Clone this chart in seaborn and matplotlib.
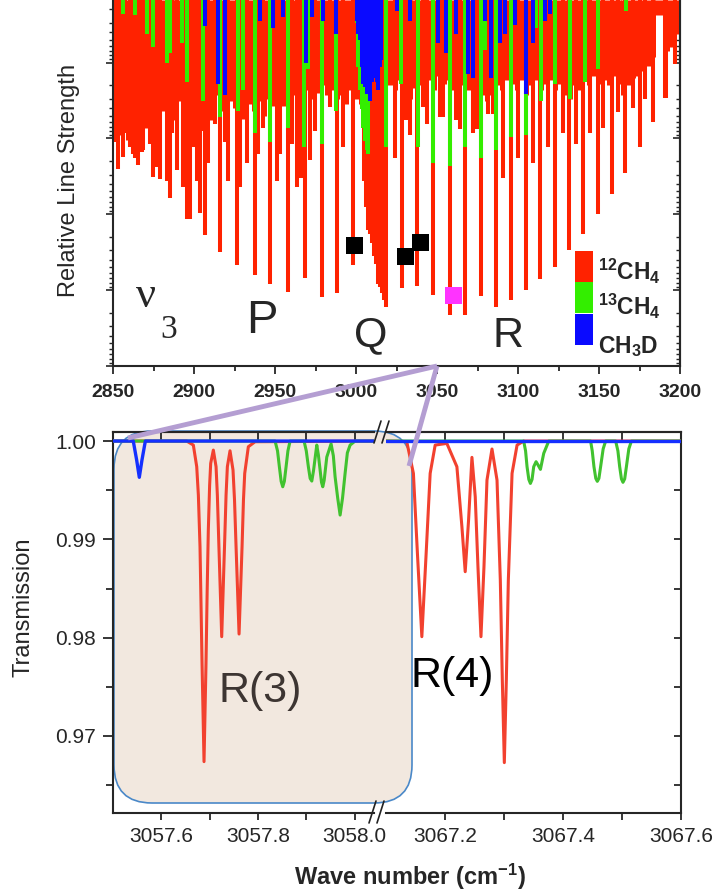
import matplotlib.pyplot as plt
import seaborn as sns
from matplotlib.lines import Line2D
from matplotlib.patches import FancyBboxPatch, Rectangle
from matplotlib.ticker import FixedLocator, FormatStrFormatter, LogLocator, NullFormatter

# ---------------- top panel: stick spectrum (cm-1, relative strength) ----------------
# strongest 12CH4 lines of the P and R manifolds
c12_main_wn = [2853.1, 2856.2, 2862.4, 2865.5, 2868.5, 2874.7, 2878.8, 2885.0, 2889.1,
               2895.3, 2897.3, 2903.5, 2906.6, 2915.9, 2926.2, 2937.5, 2946.7, 2958.0,
               2968.3, 2978.6, 2988.2, 2998.1, 3028.0, 3037.6, 3047.5, 3058.2, 3067.5,
               3076.9, 3086.6, 3095.9, 3104.7, 3113.4, 3123.0, 3131.3, 3140.1, 3149.4,
               3158.2, 3165.8, 3175.1, 3183.3, 3190.5, 3196.7]
c12_main_s = [0.025, 0.0176, 0.016, 0.0227, 0.0144, 0.032, 0.034, 0.062, 0.026,
              0.114, 0.114, 0.097, 0.19, 0.31, 0.47, 0.63, 0.82, 1.05,
              0.70, 1.22, 1.10, 0.47, 0.95, 0.89, 1.16, 2.13, 2.13,
              1.20, 1.66, 1.35, 1.0, 0.72, 0.49, 0.30, 0.18, 0.098,
              0.054, 0.029, 0.013, 0.0061, 0.0029, 0.00104]

# Q branch of 12CH4
q_wn = [3004.7, 3005.9, 3007.2, 3008.4, 3009.6, 3010.9, 3012.1, 3013.3, 3014.6,
        3015.8, 3017.1, 3018.3]
q_s = [0.036, 0.080, 0.16, 0.18, 0.24, 0.35, 0.45, 0.82, 0.90, 1.10, 1.35, 1.66]

# medium 12CH4 lines
c12_mid_wn = [2849.0, 2851.0, 2854.1, 2857.2, 2860.3, 2863.4, 2867.5, 2870.6, 2872.7,
              2876.8, 2883.4, 2886.0, 2893.2, 2899.4, 2901.5, 2904.5, 2908.7, 2912.8,
              2919.0, 2921.0, 2928.2, 2932.3, 2939.5, 2942.6, 2950.8, 2952.9, 2960.1,
              2963.2, 2966.2, 2971.4, 2974.5, 2983.7, 2992.0, 3023.8, 3031.0, 3033.5,
              3041.3, 3043.5, 3051.6, 3053.7, 3061.9, 3064.0, 3072.2, 3074.3, 3081.5,
              3084.6, 3090.7, 3100.0, 3109.2, 3118.5, 3127.8, 3136.0, 3144.2, 3152.5,
              3161.7, 3171.0, 3178.2, 3191.6]
c12_mid_s = [0.0072, 0.011, 0.0083, 0.0086, 0.013, 0.018, 0.015, 0.0074, 0.0117,
             0.024, 0.036, 0.0086, 0.044, 0.013, 0.036, 0.0079, 0.021, 0.0064,
             0.011, 0.036, 0.044, 0.021, 0.016, 0.0072, 0.036, 0.016, 0.0117,
             0.044, 0.033, 0.0195, 0.0079, 0.0039, 0.013, 0.018, 0.0058, 0.0090,
             0.0039, 0.0065, 0.0052, 0.0052, 0.0058, 0.0075, 0.0086, 0.0075, 0.0047,
             0.0047, 0.033, 0.018, 0.021, 0.013, 0.0086, 0.0117, 0.0086, 0.0072,
             0.0045, 0.0040, 0.0030, 0.0029]

# dense weak 12CH4 lines near the top
c12_weak_wn = [2850, 2853, 2856, 2859, 2862, 2865, 2868, 2871, 2874, 2877, 2880, 2883,
               2886, 2889, 2892, 2895, 2898, 2901, 2904, 2907, 2910, 2913, 2916, 2919,
               2922, 2925, 2928, 2931, 2934, 2937, 2940, 2943, 2946, 2949, 2952, 2955,
               2958, 2961, 2964, 2967, 2970, 2973, 2976, 2979, 2982, 2985, 2988, 2991,
               2994, 2997, 3000, 3003, 3021, 3024, 3027, 3030, 3033, 3036, 3039, 3042,
               3045, 3048, 3051, 3054, 3057, 3060, 3063, 3066, 3069, 3072, 3075, 3078,
               3081, 3084, 3087, 3090, 3093, 3096, 3099, 3102, 3105, 3108, 3111, 3114,
               3117, 3120, 3123, 3126, 3129, 3132, 3135, 3138, 3141, 3144, 3147, 3150,
               3153, 3156, 3159, 3162, 3165, 3168, 3171, 3174, 3177, 3180, 3183, 3186,
               3189, 3192, 3195, 3198]
c12_weak_s = [0.0067, 0.0091, 0.0074, 0.0106, 0.0144, 0.0100, 0.0124, 0.0074, 0.0106,
              0.0058, 0.0043, 0.0067, 0.0058, 0.0012, 0.0032, 0.0058, 0.0043, 0.0050,
              0.0037, 0.0032, 0.0058, 0.0027, 0.0043, 0.0037, 0.0032, 0.0040, 0.0027,
              0.0055, 0.0035, 0.0043, 0.0032, 0.0050, 0.0030, 0.0037, 0.0027, 0.0037,
              0.0032, 0.0027, 0.0032, 0.0027, 0.0023, 0.0030, 0.0025, 0.0020, 0.0027,
              0.0023, 0.0030, 0.0027, 0.0035, 0.0023, 0.0030, 0.0035, 0.0020, 0.0023,
              0.0017, 0.0027, 0.0030, 0.0022, 0.0020, 0.0027, 0.0017, 0.0023, 0.0015,
              0.0019, 0.0017, 0.0023, 0.0027, 0.0020, 0.0023, 0.0030, 0.0020, 0.0027,
              0.0032, 0.0027, 0.0020, 0.0023, 0.0017, 0.0019, 0.0023, 0.0017, 0.0027,
              0.0020, 0.0017, 0.0023, 0.0019, 0.0017, 0.0023, 0.0019, 0.0027, 0.0030,
              0.0020, 0.0023, 0.0017, 0.0020, 0.0015, 0.0019, 0.0017, 0.0020, 0.0015,
              0.0019, 0.0027, 0.0020, 0.0016, 0.0015, 0.0013, 0.0011, 0.00085, 0.00024,
              0.00024, 0.00070, 0.00063, 0.00042]

c13_wn = [2856.2, 2863.4, 2870.6, 2874.7, 2882.9, 2885.0, 2892.2, 2895.3, 2905.6,
          2915.9, 2927.2, 2930.3, 2937.5, 2946.7, 2958.0, 2968.0, 2970.3, 2978.6,
          2987.8, 3000.2, 3001.2, 3002.2, 3003.3, 3004.3, 3005.3, 3006.4, 3007.4,
          3018.7, 3027.9, 3038.2, 3047.5, 3058.2, 3067.5, 3077.3, 3079.4, 3086.6,
          3095.9, 3104.7, 3111.3, 3114.4, 3122.6, 3131.9, 3141.1, 3149.4, 3166.9]
c13_s = [2.3e-4, 2.4e-4, 4.2e-4, 6.3e-4, 1.0e-3, 7.6e-4, 5.6e-4, 1.8e-3, 3.2e-3,
         5.3e-3, 4.3e-3, 2.3e-3, 8.6e-3, 0.0113, 0.0074, 0.013, 1.2e-3, 0.0117,
         4.3e-3, 3.0e-4, 1.15e-3, 2.3e-3, 4.1e-3, 7.2e-3, 0.0107, 0.0144, 0.016,
         0.013, 1.9e-3, 0.013, 0.021, 0.023, 0.013, 0.018, 6.9e-4, 0.0144,
         0.0097, 0.0091, 3.5e-4, 3.2e-3, 1.9e-3, 3.0e-3, 1.8e-3, 1.2e-3, 2.1e-4]

ch3d_wn = [2906.6, 2914.8, 2919.0, 2940.6, 2948.8, 2955.0, 2969.3, 2972.4, 2979.6,
           2987.8, 3000.2, 3001.2, 3002.2, 3003.3, 3004.3, 3005.3, 3006.4, 3007.4,
           3008.4, 3009.5, 3010.5, 3011.5, 3012.6, 3013.6, 3014.6, 3015.6, 3024.9,
           3033.1, 3050.6, 3055.7, 3061.9, 3069.1, 3072.2, 3079.4, 3083.5, 3088.7,
           3091.8, 3097.9, 3105.1, 3109.2, 3116.4, 3119.5]
ch3d_s = [3.3e-4, 1.9e-3, 2.7e-3, 2.8e-4, 3.5e-4, 2.5e-4, 1.0e-3, 2.5e-4, 2.8e-4,
          4.2e-4, 2.8e-4, 4.2e-4, 5.1e-4, 1.15e-3, 1.9e-3, 2.1e-3, 2.6e-3, 2.6e-3,
          3.2e-3, 1.8e-3, 1.6e-3, 1.4e-3, 1.8e-3, 2.3e-3, 1.15e-3, 9.4e-4, 2.1e-4,
          2.8e-4, 5.6e-4, 7.6e-4, 4.2e-4, 1.4e-3, 1.6e-3, 2.8e-4, 1.6e-3, 5.6e-4,
          4.2e-4, 3.2e-4, 2.6e-3, 5.6e-4, 2.8e-4, 2.3e-4]

marker_wn = [2999.0, 3030.4, 3040.0]
marker_s = [0.256, 0.357, 0.234]
laser_wn = [3059.9]
laser_s = [1.16]

# ---------------- bottom panel: transmission ----------------
left_red_wn = [3057.5000, 3057.6525, 3057.6663, 3057.6733, 3057.6767, 3057.6801, 3057.6843,
               3057.6884, 3057.6925, 3057.6950, 3057.6973, 3057.7000, 3057.7022, 3057.7077,
               3057.7133, 3057.7160, 3057.7188, 3057.7250, 3057.7312, 3057.7340, 3057.7367,
               3057.7422, 3057.7484, 3057.7515, 3057.7547, 3057.7609, 3057.7671, 3057.7700,
               3057.7726, 3057.7801, 3057.7940, 3058.0500]
left_red_t = [1.0, 1.0, 0.99959, 0.99739, 0.99450, 0.98925, 0.97739,
              0.96739, 0.97739, 0.98500, 0.99095, 0.99550, 0.99773, 0.99908,
              0.99739, 0.99450, 0.98993, 0.98010, 0.98993, 0.99450, 0.99739,
              0.99901, 0.99705, 0.99400, 0.98925, 0.98037, 0.98925, 0.99400,
              0.99671, 0.99942, 0.99993, 1.0]
left_green_wn = [3057.5000, 3057.8354, 3057.8405, 3057.8443, 3057.8480, 3057.8513, 3057.8546,
                 3057.8582, 3057.8620, 3057.8665, 3057.8954, 3057.9000, 3057.9043, 3057.9080,
                 3057.9114, 3057.9150, 3057.9217, 3057.9250, 3057.9286, 3057.9315, 3057.9341,
                 3057.9370, 3057.9424, 3057.9513, 3057.9560, 3057.9596, 3057.9650, 3057.9700,
                 3057.9750, 3057.9803, 3057.9850, 3057.9907, 3058.0010, 3058.0500]
left_green_t = [1.0, 1.0, 0.99900, 0.99739, 0.99590, 0.99535, 0.99590,
                0.99739, 0.99900, 1.0, 1.0, 0.99900, 0.99739, 0.99620,
                0.99593, 0.99700, 0.99959, 0.99860, 0.99705, 0.99580, 0.99535,
                0.99600, 0.99837, 0.99972, 0.99850, 0.99637, 0.99420, 0.99247,
                0.99420, 0.99671, 0.99880, 0.99959, 1.0, 1.0]
left_blue_wn = [3057.500, 3057.542, 3057.549, 3057.5545, 3057.560, 3057.567, 3058.050]
left_blue_t = [1.0, 1.0, 0.99807, 0.99631, 0.99807, 1.0, 1.0]

right_red_wn = [3067.1000, 3067.1351, 3067.1464, 3067.1532, 3067.1607, 3067.1680, 3067.1748,
                3067.1833, 3067.2031, 3067.2201, 3067.2286, 3067.2342, 3067.2399, 3067.2456,
                3067.2512, 3067.2558, 3067.2609, 3067.2660, 3067.2711, 3067.2796, 3067.2881,
                3067.2937, 3067.2971, 3067.3005, 3067.3039, 3067.3073, 3067.3136, 3067.3221,
                3067.3333, 3067.6000]
right_red_t = [1.0, 0.99995, 0.99671, 0.98858, 0.98010, 0.98858, 0.99671,
               0.99959, 0.99976, 0.99739, 0.99129, 0.98671, 0.99197, 0.99834,
               0.99434, 0.98722, 0.98010, 0.98722, 0.99603, 0.99919, 0.99603,
               0.98586, 0.97569, 0.96729, 0.97569, 0.98586, 0.99671, 0.99959,
               1.0, 1.0]
right_green_wn = [3067.1000, 3067.3333, 3067.3365, 3067.3390, 3067.3420, 3067.3447, 3067.3475,
                  3067.3503, 3067.3543, 3067.3577, 3067.3617, 3067.3673, 3067.3758, 3067.4467,
                  3067.4495, 3067.4524, 3067.4555, 3067.4581, 3067.4608, 3067.4637, 3067.4680,
                  3067.4722, 3067.4892, 3067.4930, 3067.4960, 3067.4990, 3067.5016, 3067.5045,
                  3067.5074, 3067.5115, 3067.5159, 3067.6000]
right_green_t = [1.0, 1.0, 0.99900, 0.99739, 0.99610, 0.99569, 0.99610,
                 0.99739, 0.99790, 0.99756, 0.99712, 0.99875, 1.0, 1.0,
                 0.99900, 0.99739, 0.99620, 0.99590, 0.99620, 0.99739, 0.99920,
                 1.0, 1.0, 0.99900, 0.99739, 0.99615, 0.99580, 0.99615,
                 0.99739, 0.99920, 1.0, 1.0]
right_blue_wn = [3067.1, 3067.6]
right_blue_t = [1.0, 1.0]

RED, GREEN, BLUE = "#ff2200", "#33ee00", "#0a0aff"
RED2, GREEN2, BLUE2 = "#f2412f", "#41c22f", "#1530ff"
PURPLE = "#b49ed2"
Y_TOP = 1.5e-4

sns.set_style("ticks")
plt.rcParams["font.family"] = ["Liberation Sans", "DejaVu Sans"]
plt.rcParams["mathtext.fontset"] = "custom"
plt.rcParams["mathtext.rm"] = "Liberation Sans"
plt.rcParams["mathtext.bf"] = "Liberation Sans:bold"
plt.rcParams["mathtext.default"] = "bf"

fig = plt.figure(figsize=(7.15, 8.92), dpi=100)

# ---------- top panel ----------
ax = fig.add_axes([0.1585, 0.5897, 0.7926, 0.4103])
ax.set_yscale("log")
ax.vlines(c12_weak_wn, Y_TOP, c12_weak_s, colors=RED, lw=3.6)
ax.vlines(c12_mid_wn, Y_TOP, c12_mid_s, colors=RED, lw=2.9)
ax.vlines(q_wn, Y_TOP, q_s, colors=RED, lw=2.9)
ax.vlines(c12_main_wn, Y_TOP, c12_main_s, colors=RED, lw=2.9)
ax.vlines(c13_wn, Y_TOP, c13_s, colors=GREEN, lw=2.9)
ax.vlines(ch3d_wn, Y_TOP, ch3d_s, colors=BLUE, lw=2.9)
sns.scatterplot(x=marker_wn, y=marker_s, marker="s", s=150, color="black",
                edgecolor="none", ax=ax, zorder=5)
sns.scatterplot(x=laser_wn, y=laser_s, marker="s", s=150, color="#ff33ff",
                edgecolor="none", ax=ax, zorder=5)
ax.set_xlim(2850, 3200)
ax.set_ylim(10, Y_TOP)
ax.set_xticks([2850, 2900, 2950, 3000, 3050, 3100, 3150, 3200])
ax.xaxis.set_minor_locator(FixedLocator([2875, 2925, 2975, 3025, 3075, 3125, 3175]))
ax.yaxis.set_major_locator(LogLocator(base=10))
ax.yaxis.set_minor_locator(LogLocator(base=10, subs=range(2, 10)))
ax.yaxis.set_major_formatter(NullFormatter())
ax.yaxis.set_minor_formatter(NullFormatter())
ax.tick_params(axis="x", which="major", direction="out", length=6, width=1.3,
               labelsize=14, pad=7)
ax.tick_params(axis="x", which="minor", direction="out", length=3.5, width=1.3)
ax.tick_params(axis="y", which="major", direction="out", length=5, width=1.2)
ax.tick_params(axis="y", which="minor", direction="out", length=3, width=1.0)
for lab in ax.get_xticklabels():
    lab.set_fontweight("bold")
for side in ["left", "bottom", "right"]:
    ax.spines[side].set_linewidth(1.5)
ax.spines["top"].set_visible(False)
ax.set_xlabel("")
ax.set_ylabel("Relative Line Strength", fontsize=17)
ax.yaxis.set_label_coords(-0.058, 0.508)

sec = ax.secondary_yaxis("right")
sec.yaxis.set_major_locator(LogLocator(base=10))
sec.yaxis.set_minor_locator(LogLocator(base=10, subs=range(2, 10)))
sec.yaxis.set_major_formatter(NullFormatter())
sec.yaxis.set_minor_formatter(NullFormatter())
sec.tick_params(which="major", direction="in", length=5, width=1.2)
sec.tick_params(which="minor", direction="in", length=3, width=1.0)
sec.spines["right"].set_linewidth(1.5)

ax.text(0.0577, 0.161, "\u03bd", transform=ax.transAxes, ha="center", va="baseline",
        fontsize=32, family="Liberation Serif")
ax.text(0.0974, 0.0765, "3", transform=ax.transAxes, ha="center", va="baseline",
        fontsize=24, family="Liberation Serif")
ax.text(0.2624, 0.090, "P", transform=ax.transAxes, ha="center", va="baseline", fontsize=34)
ax.text(0.4547, 0.055, "Q", transform=ax.transAxes, ha="center", va="baseline", fontsize=31)
ax.text(0.6965, 0.052, "R", transform=ax.transAxes, ha="center", va="baseline", fontsize=31)

legend_rows = [("$^{12}$CH$_4$", RED, 0.2295, 0.235),
               ("$^{13}$CH$_4$", GREEN, 0.1448, 0.139),
               ("CH$_3$D", BLUE, 0.0574, 0.0355)]
for label, col, y0, yb in legend_rows:
    ax.add_patch(Rectangle((0.8147, y0), 0.0318, 0.085, transform=ax.transAxes,
                           facecolor=col, edgecolor="none", zorder=6))
    ax.text(0.855, yb, label, transform=ax.transAxes, ha="left", va="baseline",
            fontsize=16.5, fontweight="bold", zorder=6)

# ---------- bottom panel (broken x axis) ----------
axl = fig.add_axes([0.1580, 0.0886, 0.3650, 0.4271])
axr = fig.add_axes([0.5399, 0.0886, 0.4126, 0.4271], sharey=axl)
for a in (axl, axr):
    a.set_facecolor("none")

sns.lineplot(x=left_red_wn, y=left_red_t, color=RED2, lw=2.2, sort=False,
             estimator=None, ax=axl, zorder=3)
sns.lineplot(x=left_green_wn, y=left_green_t, color=GREEN2, lw=2.2, sort=False,
             estimator=None, ax=axl, zorder=3)
sns.lineplot(x=left_blue_wn, y=left_blue_t, color=BLUE2, lw=2.4, sort=False,
             estimator=None, ax=axl, zorder=4)
sns.lineplot(x=right_red_wn, y=right_red_t, color=RED2, lw=2.2, sort=False,
             estimator=None, ax=axr, zorder=3)
sns.lineplot(x=right_green_wn, y=right_green_t, color=GREEN2, lw=2.2, sort=False,
             estimator=None, ax=axr, zorder=3)
sns.lineplot(x=right_blue_wn, y=right_blue_t, color=BLUE2, lw=2.4, sort=False,
             estimator=None, ax=axr, zorder=4)

axl.set_xlim(3057.5, 3058.04)
axr.set_xlim(3067.1, 3067.6)
axl.set_ylim(0.96217, 1.00092)
axl.set_yticks([0.97, 0.98, 0.99, 1.00])
axl.yaxis.set_minor_locator(FixedLocator([0.965, 0.975, 0.985, 0.995]))
axl.yaxis.set_major_formatter(FormatStrFormatter("%.2f"))
axl.set_xticks([3057.6, 3057.8, 3058.0])
axl.xaxis.set_minor_locator(FixedLocator([3057.7, 3057.9]))
axl.xaxis.set_major_formatter(FormatStrFormatter("%.1f"))
axr.set_xticks([3067.2, 3067.4, 3067.6])
axr.xaxis.set_minor_locator(FixedLocator([3067.3, 3067.5]))
axr.xaxis.set_major_formatter(FormatStrFormatter("%.1f"))

axl.spines["right"].set_visible(False)
axr.spines["left"].set_visible(False)
for a in (axl, axr):
    for s in a.spines.values():
        s.set_linewidth(1.5)
    a.tick_params(axis="x", which="both", direction="out", length=5, width=1.3,
                  labelsize=15, pad=5)
    a.set_xlabel("")
    a.set_ylabel("")
    top = a.secondary_xaxis("top")
    top.set_xticks(a.get_xticks())
    top.xaxis.set_minor_locator(a.xaxis.get_minor_locator())
    top.tick_params(which="both", direction="in", length=6, width=1.3, labeltop=False)
    top.spines["top"].set_linewidth(1.5)
    if a is axl:
        top.spines["right"].set_visible(False)
    else:
        top.spines["left"].set_visible(False)

axl.tick_params(axis="y", which="major", direction="out", length=7, width=1.3,
                labelsize=15, pad=5)
axl.tick_params(axis="y", which="minor", direction="out", length=5, width=1.3)
axr.yaxis.tick_right()
axr.tick_params(axis="y", which="both", direction="in", length=5, width=1.3,
                labelright=False)
axl.set_ylabel("Transmission", fontsize=17)
axl.yaxis.set_label_coords(-0.30, 0.541)

fig.text(410 / 715, 1 - 877 / 892, "Wave number (cm$^{-1}$)", ha="center", va="center",
         fontsize=17, fontweight="bold")

# rounded highlight box and labels
box = FancyBboxPatch((1.14, 0.89), 2.98, 3.72,
                     boxstyle="round,pad=0,rounding_size=0.38",
                     transform=fig.dpi_scale_trans, facecolor="#f2e8df",
                     edgecolor="#4a88c8", lw=1.2, zorder=-1)
fig.add_artist(box)
fig.text(260 / 715, 1 - 691 / 892, "R(3)", ha="center", va="center", fontsize=31,
         color="#3d3532", zorder=-0.5)
fig.text(452 / 715, 1 - 676 / 892, "R(4)", ha="center", va="center", fontsize=31,
         color="black", zorder=-2)

# zoom connectors from 3050 cm-1
for x_end, y_end in [(1.28, 4.54), (4.09, 4.26)]:
    fig.add_artist(Line2D([4.37, x_end], [5.26, y_end], color=PURPLE, lw=3.5,
                          transform=fig.dpi_scale_trans, zorder=5,
                          solid_capstyle="butt"))

# axis-break marks
for x0, y0 in [(3.74, 4.49), (3.82, 4.49), (3.69, 0.69), (3.77, 0.69)]:
    fig.add_artist(Line2D([x0, x0 + 0.07], [y0, y0 + 0.22], color="#222222", lw=1.2,
                          transform=fig.dpi_scale_trans, zorder=6))

fig.savefig("out.png", dpi=100)
